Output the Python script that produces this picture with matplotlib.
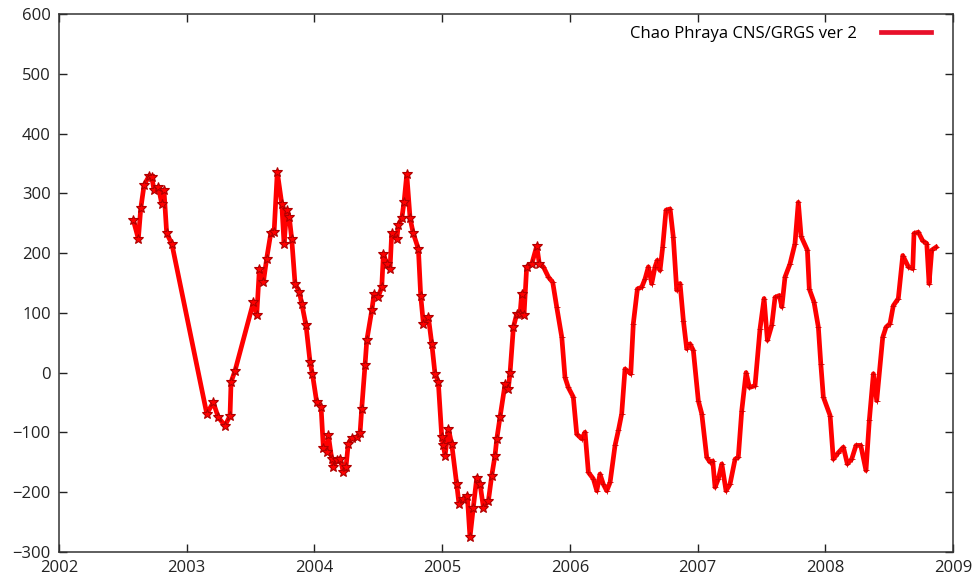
import numpy as np
import matplotlib
matplotlib.use("Agg")
import matplotlib.pyplot as plt

# decimal year of each solution and water storage anomaly (mm)
years = [
    2002.582, 2002.621, 2002.640, 2002.666, 2002.707, 2002.726, 2002.744, 2002.778,
    2002.804, 2002.822, 2002.843, 2002.883,
    2003.157, 2003.208, 2003.247, 2003.300, 2003.339, 2003.347, 2003.378, 2003.522,
    2003.548, 2003.569, 2003.600, 2003.626, 2003.658, 2003.684, 2003.709, 2003.744,
    2003.762, 2003.783, 2003.803, 2003.822, 2003.848, 2003.882, 2003.901, 2003.934,
    2003.966, 2003.984,
    2004.018, 2004.052, 2004.070, 2004.096, 2004.109, 2004.135, 2004.148, 2004.175,
    2004.200, 2004.226, 2004.247, 2004.265, 2004.292, 2004.331, 2004.357, 2004.370,
    2004.396, 2004.410, 2004.449, 2004.467, 2004.500, 2004.527, 2004.540, 2004.566,
    2004.592, 2004.605, 2004.645, 2004.657, 2004.684, 2004.702, 2004.723, 2004.749,
    2004.774, 2004.814, 2004.832, 2004.853, 2004.892, 2004.919, 2004.944, 2004.970,
    2004.997,
    2005.009, 2005.023, 2005.049, 2005.075, 2005.114, 2005.132, 2005.166, 2005.197,
    2005.218, 2005.244, 2005.271, 2005.297, 2005.323, 2005.362, 2005.388, 2005.414,
    2005.428, 2005.453, 2005.493, 2005.518, 2005.532, 2005.558, 2005.584, 2005.610,
    2005.623, 2005.641, 2005.662, 2005.702, 2005.741, 2005.761, 2005.793, 2005.832,
    2005.866, 2005.897, 2005.937, 2005.962, 2005.988,
    2006.027, 2006.054, 2006.093, 2006.119, 2006.145, 2006.184, 2006.211, 2006.236,
    2006.262, 2006.289, 2006.315, 2006.354, 2006.380, 2006.406, 2006.432, 2006.477,
    2006.497, 2006.529, 2006.563, 2006.589, 2006.615, 2006.641, 2006.667, 2006.685,
    2006.706, 2006.727, 2006.753, 2006.785, 2006.810, 2006.837, 2006.863, 2006.889,
    2006.915, 2006.941, 2006.967,
    2007.006, 2007.033, 2007.072, 2007.098, 2007.119, 2007.137, 2007.163, 2007.190,
    2007.223, 2007.254, 2007.294, 2007.319, 2007.346, 2007.380, 2007.406, 2007.450,
    2007.489, 2007.521, 2007.547, 2007.581, 2007.607, 2007.641, 2007.660, 2007.685,
    2007.724, 2007.763, 2007.789, 2007.811, 2007.860, 2007.875, 2007.912, 2007.946,
    2007.965, 2007.985,
    2008.038, 2008.063, 2008.103, 2008.142, 2008.173, 2008.207, 2008.241, 2008.278,
    2008.319, 2008.345, 2008.377, 2008.403, 2008.450, 2008.476, 2008.507, 2008.533,
    2008.572, 2008.607, 2008.651, 2008.685, 2008.695, 2008.729, 2008.762, 2008.795,
    2008.813, 2008.834, 2008.868,
]
storage = [
    255, 224, 275, 314, 330, 328, 305, 311,
    283, 305, 233, 216,
    -69, -50, -75, -89, -72, -16, 3, 118,
    96, 174, 151, 191, 233, 235, 336, 283,
    216, 272, 260, 224, 149, 135, 115, 79,
    17, -2,
    -50, -58, -127, -133, -105, -144, -158, -147,
    -144, -166, -158, -119, -110, -108, -102, -61,
    12, 54, 104, 132, 127, 143, 199, 182,
    174, 233, 224, 247, 258, 286, 332, 258,
    233, 207, 129, 82, 93, 48, -2, -16,
    -108,
    -122, -139, -94, -120, -187, -220, -212, -206,
    -276, -226, -176, -187, -226, -215, -173, -139,
    -111, -75, -19, -27, 0, 76, 98, 98,
    132, 96, 177, 182, 212, 182, 177, 160,
    151, 110, 59, -8, -25,
    -41, -103, -111, -100, -167, -178, -198, -170,
    -187, -198, -184, -122, -97, -69, 6, -2,
    82, 140, 143, 157, 177, 149, 177, 188,
    171, 210, 272, 274, 227, 138, 149, 87,
    40, 48, 37,
    -47, -69, -142, -150, -148, -192, -178, -153,
    -198, -187, -145, -142, -64, 0, -25, -22,
    73, 124, 54, 79, 126, 129, 110, 160,
    182, 216, 285, 228, 205, 140, 118, 76,
    15, -41,
    -72, -145, -134, -125, -153, -145, -122, -122,
    -164, -80, -2, -47, 59, 76, 82, 112,
    124, 196, 177, 174, 233, 235, 221, 216,
    149, 205, 210,
]
series_label = "Chao Phraya CNS/GRGS ver 2"
xticks = list(range(2002, 2010))
yticks = list(range(-300, 601, 100))

plt.rcParams['font.family'] = ['Open Sans', 'DejaVu Sans']

years = np.array(years)
storage = np.array(storage)
early = years < 2005.77

fig = plt.figure(figsize=(9.79, 5.83), dpi=100)
ax = fig.add_axes([0.0603, 0.0537, 0.9131, 0.9218])

ax.plot(years, storage, color='#ff0000', lw=3.4, label=series_label, zorder=3)
ax.plot(years[early], storage[early], ls='none', marker='*', ms=7,
        mfc='#ff0000', mec='#b00000', mew=0.8, zorder=4)
ax.plot(years[~early], storage[~early], ls='none', marker='+', ms=4,
        mec='#d00000', mew=0.6, zorder=4)

ax.set_xlim(2002, 2009)
ax.set_ylim(-300, 600)
ax.set_xticks(xticks)
ax.set_yticks(yticks)
ax.tick_params(direction='in', length=6, width=1, top=True, right=True,
               labelsize=12, pad=6, colors='#222222')
for s in ax.spines.values():
    s.set_linewidth(1.1)
    s.set_color('#333333')

leg = ax.legend(loc='upper right', bbox_to_anchor=(0.988, 1.0), frameon=False,
                markerfirst=False, fontsize=12, handlelength=3.0,
                handletextpad=1.4, borderaxespad=0.3)
leg.get_lines()[0].set_color('#e8102a')

fig.savefig('out.png', dpi=100)
